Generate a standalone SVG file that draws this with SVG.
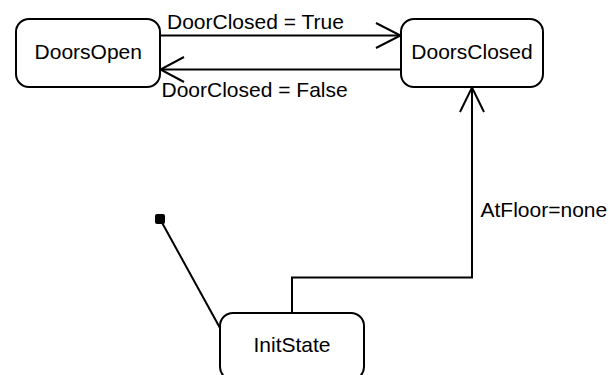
<svg xmlns="http://www.w3.org/2000/svg" width="610" height="375" viewBox="0 0 610 375">
<style>
.state{fill:#fff;stroke:#000;stroke-width:2}
.lbl{font-family:"Liberation Sans",Arial,sans-serif;font-size:21px;fill:#000}
.c{text-anchor:middle}
.edge{fill:none;stroke:#000;stroke-width:2}
</style>
<rect width="610" height="375" fill="#fff"/>
<g id="connectors">
<path class="edge" d="M160,35.5 H400.5"/>
<path class="edge" d="M376,23 L400.5,35.5 L376,48"/>
<path class="edge" d="M401,69.5 H160.5"/>
<path class="edge" d="M184,57 L160.5,69.5 L184,82"/>
<path class="edge" d="M292,313 V277.5 H472 V87.5"/>
<path class="edge" d="M460,112 L472,87.5 L484,112"/>
<path class="edge" d="M160,219 L220,328"/>
<text class="lbl" x="167" y="29">DoorClosed = True</text>
<text class="lbl" x="161.5" y="96.5">DoorClosed = False</text>
<text class="lbl" x="480.5" y="216.5">AtFloor=none</text>
</g>
<g id="initial">
<rect x="155" y="214" width="10" height="10" rx="2" fill="#000"/>
</g>
<g id="DoorsOpen">
<rect class="state" x="16" y="19" width="144" height="68" rx="13"/>
<text class="lbl c" x="88.3" y="59">DoorsOpen</text>
</g>
<g id="DoorsClosed">
<rect class="state" x="401" y="19" width="142" height="68" rx="13"/>
<text class="lbl c" x="472" y="58.5">DoorsClosed</text>
</g>
<g id="InitState">
<rect class="state" x="220" y="313" width="144" height="67" rx="13"/>
<text class="lbl c" x="292" y="352">InitState</text>
</g>
</svg>
